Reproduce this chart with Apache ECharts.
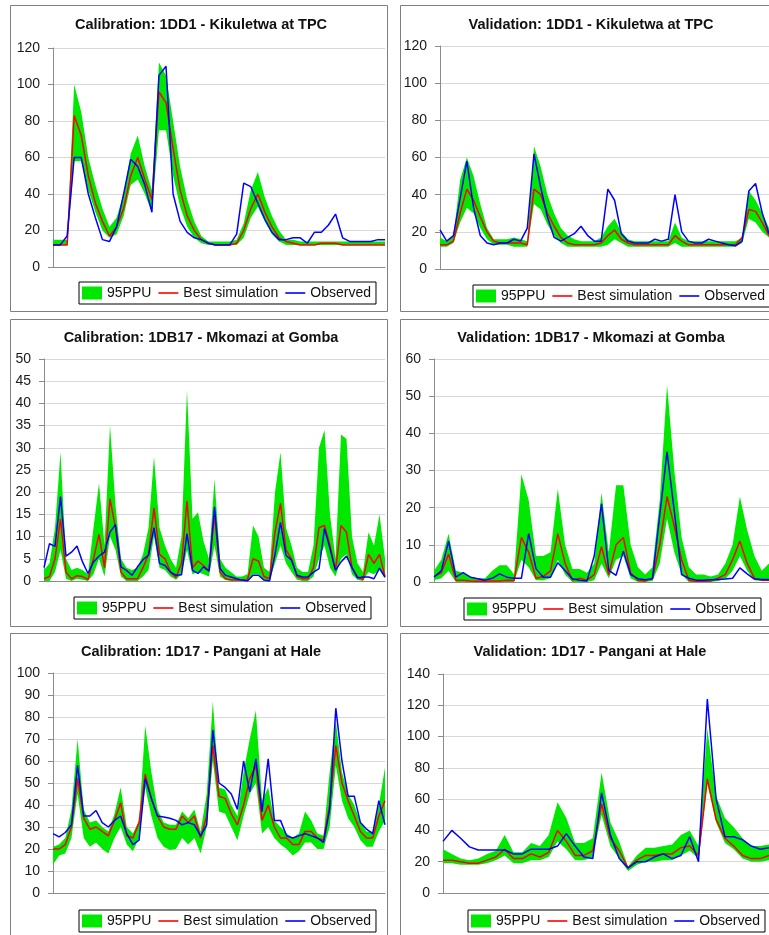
<!DOCTYPE html>
<html>
<head>
<meta charset="utf-8">
<script src="https://cdn.jsdelivr.net/npm/echarts@6/dist/echarts.min.js"></script>
<style>
html,body{margin:0;padding:0;background:#fff;overflow:hidden}
#chart{width:769px;height:935px}
</style>
</head>
<body>
<div id="chart"></div>
<script>
// 1DD1 Kikuletwa at TPC - calibration
const cal1DD1Upper = [15,15,15,100,85,60,45,32,22,27, 40,62,72,55,42,112,105,80,55,37, 25,17,14,14,14,14,15,24,42,52, 38,28,20,15,15,14,14,14,14,14, 14,14,14,14,14,14,14,14]
const cal1DD1Lower = [12,12,12,58,58,42,30,20,16,18, 28,45,48,40,30,75,75,50,33,22, 16,13,12,12,12,12,12,16,27,33, 25,18,14,12,12,12,12,12,12,12, 12,12,12,12,12,12,12,12]
const cal1DD1Best = [12,12,12,83,72,50,35,25,17,22, 32,50,60,48,37,96,90,65,42,28, 20,15,13,12,12,12,13,20,32,40, 30,22,16,14,13,12,12,12,13,13, 13,12,12,12,12,12,12,12]
const cal1DD1Obs = [12,12,17,60,60,40,27,15,14,22, 40,59,55,45,30,105,110,40,25,19, 16,15,13,12,12,12,18,46,44,35, 26,19,15,15,16,16,13,19,19,23, 29,16,14,14,14,14,15,15]

// 1DD1 Kikuletwa at TPC - validation
const val1DD1Upper = [17,15,18,48,60,50,35,22,16,16, 16,17,16,15,66,55,40,30,22,18, 16,15,15,15,17,23,27,20,16,15, 15,15,15,15,15,25,17,15,15,15, 15,15,15,15,15,17,42,37,30,22]
const val1DD1Lower = [12,12,14,25,33,30,22,16,13,13, 13,12,12,12,35,32,24,18,14,12, 12,12,12,12,12,13,16,14,12,12, 12,12,12,12,12,14,12,12,12,12, 12,12,12,12,12,14,27,25,20,17]
const val1DD1Best = [13,13,15,30,43,37,28,20,15,14, 14,14,14,13,43,40,30,23,17,14, 13,13,13,13,14,18,21,16,14,13, 13,13,13,13,13,18,15,13,13,13, 13,13,13,13,13,17,32,31,25,18]
const val1DD1Obs = [21,15,18,38,58,33,18,14,13,14, 14,16,15,22,62,44,28,17,15,17, 19,23,18,15,15,43,37,19,15,14, 14,14,16,15,16,40,20,15,14,14, 16,15,14,13,12.5,15,42,46,30,19]

// 1DB17 Mkomazi at Gomba - calibration
const cal1DB17Upper = [2.5,4,12,29,5,2.5,3,2.5,1.5,12, 22,8,35,17,5,3,2.5,3,6,12, 28,12,8,5,3,10,43,14,15.5,9, 5,23,5,3,2,1,1,1.5,12.5,10, 3,2,20,29,12,8,3,2,2,8, 30,34,15,5,33,32,10,4,2,11, 8,15,5]
const cal1DB17Lower = [0,0,2,7,0.5,0,0.5,0.3,0,1.5, 5,1,10,7,1,0,0,0,1,2.5, 10,3,2.5,1,0.3,1.5,7,1.5,2,1.5, 1,8,1,0.2,0,0,0,0,1.5,1.5, 0.3,0,4,8,4,2,0.3,0,0,1, 5,8,3,1,5,6,1.5,0.3,0,2, 1.5,2.5,0.5]
const cal1DB17Best = [0.5,1,5,14,2,0.5,1.2,1,0.3,5, 10.5,3,18.5,12,2,0.5,0.5,0.5,3,6, 16.5,6,5,2,0.8,4,18,3,4.5,3.5, 2.3,15,2,0.5,0.3,0.2,0.2,0.3,5,4.5, 1,0.5,11,17.5,7,5,1,0.5,0.5,3, 12,12.5,8,2.5,12.5,11,3,1,0.3,6, 4,6,1]
const cal1DB17Obs = [3,8.4,7.8,19,5.6,6.5,7.9,4.3,1.7,4.3, 5.6,6.5,11,12.7,3.2,2.4,1.3,3.2,4.8,5.8, 12,4,3.5,2,1.3,1.4,10.7,2.4,1.7,3.2, 2.2,16.7,2.8,1.3,0.9,0.5,0.2,0,1.3,1.3, 0.2,0,6,13.2,5.8,4.7,1.3,0.9,0.9,2, 2.8,11.8,7.3,2.4,4.3,5.6,3,0.7,0.9,0.9, 0.5,2.9,0.9]

// 1DB17 Mkomazi at Gomba - validation
const val1DB17Upper = [3,6,13,3,2.5,1.5,1,1,3,4.5, 4.5,2,29,22,7,7,8,25,10,3.5, 3.5,2.5,5,24,8,26,26,10,4,2, 4,22,53,30,12,4,2,2,1.5,2, 5,10,23,14,7,3,5]
const val1DB17Lower = [0.5,1,3,0,0,0,0,0,0,0, 0,0,6,4,0.5,0.5,1,6,2,0, 0,0,0.5,5,1,6,7,1,0,0, 0.3,5,17,8,2,0,0,0,0,0.3, 0.8,3,7,3,0.5,0.3,0.3]
const val1DB17Best = [1.5,2.5,7.5,0.5,0.5,0.3,0.2,0.2,0.3,0.3, 0.5,0.4,12,8,1,1.5,3,13,5,0.5, 1,0.5,2,9.5,2,10,12,2.5,0.5,0.3, 1,10,23,15,6,0.5,0.2,0.2,0.3,1, 2,6,11,5,1,0.5,0.5]
const val1DB17Obs = [1.3,3,11,1.3,2.5,1.3,0.9,0.5,1,2.2, 1.3,1,1,13,3.6,1.3,1.3,5.2,3.1,0.9, 0.5,0.3,7,21,3.1,1.8,8.3,2,0.9,0.6, 0.9,18,35,19,2,1,0.5,0.5,0.6,0.7, 0.8,1,3.8,2.2,0.8,0.7,0.7]

// 1D17 Pangani at Hale - calibration
const cal1D17Upper = [21,22,25,38,70,38,32,33,30,28, 36,48,30,27,33,76,55,38,32,31, 31,37,34,38,28,45,87,48,47,40, 35,55,70,83,42,48,33,30,27,25, 27,37,33,27,26,55,78,55,45,40, 32,28,28,40,57]
const cal1D17Lower = [13,17,18,25,45,25,21,23,20,18, 25,30,22,19,25,48,35,25,21,19.5, 20,25,22,25,18,30,60,37,36,30, 24,35,45,50,27,30,25,22,20,17, 19,23,23,20,20,30,58,42,34,30, 24,21,21,28,33]
const cal1D17Best = [20,20,22,30,52,34,29,30,28,26, 33,41,26,25,32,54,43,35,30,29, 29,35,32,35,25,35,67,44,43,36, 31,40,52,58,33,40,30,25,25,22, 22,28,28,25,24,40,67,50,42,35, 28,25,25,35,42]
const cal1D17Obs = [27,25.5,27.5,31,58,35,35,37.5,32,30, 33,35,27,22,24,52,43,35,34.5,34, 33,31,32,31,26,31,74,50,48,45, 38,60,46,61,37,61,33,33,26,25, 26,27,26,25,23,38,84,60,44,44, 32,29,27,42,31]

// 1D17 Pangani at Hale - validation
const val1D17Upper = [28,25,22,21,22,25,27,37,26,26, 32,30,37,58,48,32,32,35,77,45, 33,17,24,29,29,30,31,37,40,30, 105,62,48,42,35,30,30,31]
const val1D17Lower = [19,19,18,18,18,19,21,24,19,19, 21,21,23,33,28,21,21,23,50,30, 22,14,18,20,20,21,21,24,27,22, 70,45,32,28,22,20,20,21]
const val1D17Best = [21,21,20,19,19,21,23,28,22,22, 25,23,26,40,33,24,24,27,57,35, 27,16,21,24,24,25,25,29,30,24, 73,47,35,30,24,22,22,24]
const val1D17Obs = [33,40,35,29.5,27.5,27.5,27.5,27.5,25,25, 28,28,28,30,38,30,23,22,64,37, 22,16,20,20,23,25,22,24,36,20, 124,60,36,36,34,30,28,29]

const legendNames = ['95PPU', 'Best simulation', 'Observed']

const GREEN = '#00e800'
const RED = '#ff0000'
const BLUE = '#0000ff'
const FONT = 'Arial, "Liberation Sans", sans-serif'
const LINE_ICON = 'path://M0,0L20,0L20,1.6L0,1.6Z'

// panel layout: box, plot area, title centre, legend corner
const panels = [
	{title:'Calibration: 1DD1 - Kikuletwa at TPC', box:[10,5,377,306], grid:[53,48,332,219], tx:201, ty:25, lx:79, ly:282,
		max:120, step:20, upper:cal1DD1Upper, lower:cal1DD1Lower, best:cal1DD1Best, obs:cal1DD1Obs},
	{title:'Validation: 1DD1 - Kikuletwa at TPC', box:[400,5,380,306], grid:[440,46,332,223], tx:591, ty:25, lx:473, ly:285,
		max:120, step:20, upper:val1DD1Upper, lower:val1DD1Lower, best:val1DD1Best, obs:val1DD1Obs},
	{title:'Calibration: 1DB17 - Mkomazi at Gomba', box:[10,319,377,307], grid:[44,359,341,222], tx:201, ty:338, lx:74, ly:597,
		max:50, step:5, upper:cal1DB17Upper, lower:cal1DB17Lower, best:cal1DB17Best, obs:cal1DB17Obs},
	{title:'Validation: 1DB17 - Mkomazi at Gomba', box:[400,319,380,307], grid:[434,359,341,223], tx:591, ty:338, lx:464, ly:598,
		max:60, step:10, upper:val1DB17Upper, lower:val1DB17Lower, best:val1DB17Best, obs:val1DB17Obs},
	{title:'Calibration: 1D17 - Pangani at Hale', box:[10,633,377,320], grid:[53,673,332,220], tx:201, ty:652, lx:79, ly:910,
		max:100, step:10, upper:cal1D17Upper, lower:cal1D17Lower, best:cal1D17Best, obs:cal1D17Obs},
	{title:'Validation: 1D17 - Pangani at Hale', box:[400,633,380,320], grid:[443,674,332,219], tx:590, ty:652, lx:468, ly:910,
		max:140, step:20, upper:val1D17Upper, lower:val1D17Lower, best:val1D17Best, obs:val1D17Obs}
]

const grid = [], xAxis = [], yAxis = [], series = [], legend = [], graphic = []

panels.forEach((p, k) => {
	graphic.push({
		type:'rect', silent:true, z:0,
		shape:{x:p.box[0]+0.5, y:p.box[1]+0.5, width:p.box[2], height:p.box[3]},
		style:{fill:'none', stroke:'#7f7f7f', lineWidth:1}
	})
	graphic.push({
		type:'text', silent:true, x:p.tx, y:p.ty,
		style:{text:p.title, align:'center', verticalAlign:'middle', font:'bold 14.5px ' + FONT, fill:'#111'}
	})
	grid.push({left:p.grid[0], top:p.grid[1], width:p.grid[2], height:p.grid[3]})
	xAxis.push({
		type:'category', gridIndex:k, boundaryGap:false,
		data:p.obs.map((v, i) => i + 1),
		axisLabel:{show:false}, axisTick:{show:false},
		axisLine:{lineStyle:{color:'#8c8c8c'}}, splitLine:{show:false}
	})
	yAxis.push({
		type:'value', gridIndex:k, min:0, max:p.max, interval:p.step,
		axisLine:{show:true, lineStyle:{color:'#8c8c8c'}},
		axisTick:{show:true, length:5, lineStyle:{color:'#8c8c8c'}},
		axisLabel:{color:'#1a1a1a', fontSize:14, fontFamily:FONT, margin:13},
		splitLine:{lineStyle:{color:'#d9d9d9'}}
	})
	// 95PPU band: invisible lower edge + stacked width
	series.push({
		name:'lower' + k, type:'line', xAxisIndex:k, yAxisIndex:k, stack:'band' + k,
		data:p.lower, symbol:'none', silent:true, lineStyle:{width:0, opacity:0}
	})
	series.push({
		name:'95PPU', type:'line', xAxisIndex:k, yAxisIndex:k, stack:'band' + k,
		data:p.upper.map((v, i) => v - p.lower[i]), symbol:'none', silent:true,
		lineStyle:{width:0, opacity:0}, itemStyle:{color:GREEN},
		areaStyle:{color:GREEN, opacity:1}
	})
	series.push({
		name:'Best simulation', type:'line', xAxisIndex:k, yAxisIndex:k,
		data:p.best, symbol:'none', silent:true,
		lineStyle:{color:RED, width:1.5}, itemStyle:{color:RED}
	})
	series.push({
		name:'Observed', type:'line', xAxisIndex:k, yAxisIndex:k,
		data:p.obs, symbol:'none', silent:true,
		lineStyle:{color:BLUE, width:1.5}, itemStyle:{color:BLUE}
	})
	legend.push({
		left:p.lx, top:p.ly, width:320, orient:'horizontal', selectedMode:false,
		data:[
			{name:legendNames[0], icon:'rect'},
			{name:legendNames[1], icon:LINE_ICON},
			{name:legendNames[2], icon:LINE_ICON}
		],
		itemWidth:20, itemHeight:13, itemGap:7,
		padding:[4,5,4,3], borderColor:'#000', borderWidth:1,
		textStyle:{fontSize:14, fontFamily:FONT, color:'#111'}
	})
})

const myChart = echarts.init(document.getElementById('chart'))
myChart.setOption({
	animation:false,
	backgroundColor:'#fff',
	grid, xAxis, yAxis, series, legend, graphic
})
</script>
</body>
</html>
